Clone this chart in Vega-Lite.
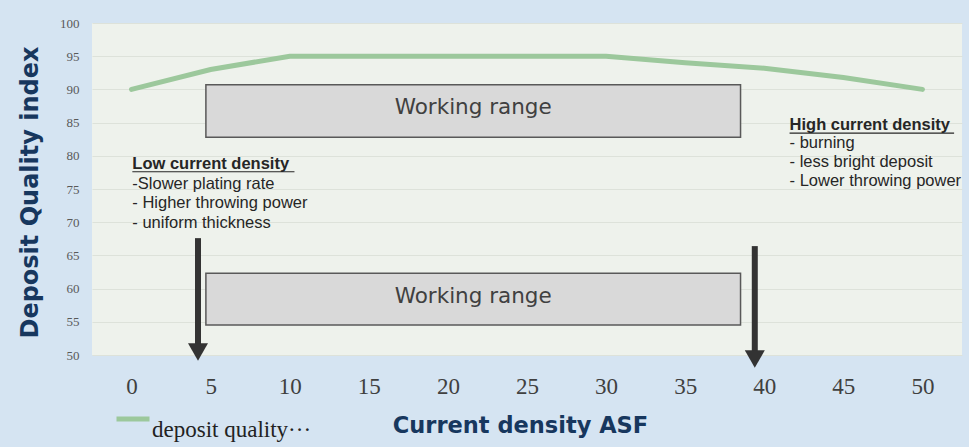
{
  "$schema": "https://vega.github.io/schema/vega-lite/v6.json",
  "width": 870,
  "height": 332,
  "autosize": {"type": "none"},
  "padding": {"left": 92, "top": 23, "right": 7, "bottom": 92},
  "background": "#d5e4f2",
  "config": {
    "view": {"fill": "#eef2ec", "stroke": null}
  },
  "datasets": {
    "quality": [
      {"x": 0, "y": 90, "series": "deposit quality···"},
      {"x": 5, "y": 93, "series": "deposit quality···"},
      {"x": 10, "y": 95, "series": "deposit quality···"},
      {"x": 15, "y": 95, "series": "deposit quality···"},
      {"x": 20, "y": 95, "series": "deposit quality···"},
      {"x": 25, "y": 95, "series": "deposit quality···"},
      {"x": 30, "y": 95, "series": "deposit quality···"},
      {"x": 35, "y": 94, "series": "deposit quality···"},
      {"x": 40, "y": 93.2, "series": "deposit quality···"},
      {"x": 45, "y": 91.8, "series": "deposit quality···"},
      {"x": 50, "y": 90, "series": "deposit quality···"}
    ],
    "boxes": [
      {"x": 4.7, "x2": 38.5, "y": 82.8, "y2": 90.7},
      {"x": 4.7, "x2": 38.5, "y": 54.5, "y2": 62.3}
    ],
    "boxlabels": [
      {"x": 21.6, "y": 87.2, "text": "Working range"},
      {"x": 21.6, "y": 58.7, "text": "Working range"}
    ],
    "shafts": [
      {"x": 4.2, "y": 67.6, "y2": 51.4},
      {"x": 39.4, "y": 66.4, "y2": 50.3}
    ],
    "tips": [
      {"x": 4.2, "y": 50.45},
      {"x": 39.4, "y": 49.4}
    ],
    "heads": [
      {"x": 0.05, "y": 78.8, "text": "Low current density"},
      {"x": 41.6, "y": 84.6, "text": "High current density"}
    ],
    "underlines": [
      {"x": 0.05, "x2": 10.3, "y": 77.6},
      {"x": 41.6, "x2": 52.0, "y": 83.4}
    ],
    "notes": [
      {"x": 0.05, "y": 75.8, "text": "-Slower plating rate"},
      {"x": 0.05, "y": 72.9, "text": "- Higher throwing power"},
      {"x": 0.05, "y": 69.9, "text": "- uniform thickness"},
      {"x": 41.6, "y": 81.9, "text": "- burning"},
      {"x": 41.6, "y": 79.1, "text": "- less bright deposit"},
      {"x": 41.6, "y": 76.2, "text": "- Lower throwing power"}
    ]
  },
  "encoding": {
    "x": {
      "field": "x", "type": "quantitative",
      "scale": {"domain": [-2.5, 52.5], "nice": false, "zero": false},
      "axis": {
        "values": [0, 5, 10, 15, 20, 25, 30, 35, 40, 45, 50],
        "labelOverlap": false,
        "grid": false, "domain": false, "ticks": false,
        "labelFont": "Liberation Serif", "labelFontSize": 23, "labelColor": "#404040",
        "labelPadding": 20,
        "title": "Current density ASF",
        "titleFont": "DejaVu Sans", "titleFontWeight": "bold", "titleFontSize": 22.5,
        "titleColor": "#17375e",
        "titleX": 428, "titleY": 70, "titleAlign": "center", "titleBaseline": "middle"
      }
    },
    "y": {
      "field": "y", "type": "quantitative",
      "scale": {"domain": [50, 100], "nice": false, "zero": false},
      "axis": {
        "values": [50, 55, 60, 65, 70, 75, 80, 85, 90, 95, 100],
        "labelOverlap": false,
        "grid": true, "gridColor": "#dde2da", "gridWidth": 1,
        "domain": false, "ticks": false,
        "labelFont": "Liberation Serif", "labelFontSize": 13, "labelColor": "#595959",
        "labelPadding": 13,
        "title": "Deposit Quality index",
        "titleFont": "DejaVu Sans", "titleFontWeight": "bold", "titleFontSize": 24,
        "titleColor": "#17375e",
        "titleX": -62, "titleY": 169, "titleAngle": 270, "titleAlign": "center", "titleBaseline": "middle"
      }
    }
  },
  "layer": [
    {
      "data": {"name": "boxes"},
      "mark": {"type": "rect", "fill": "#d9d9d9", "stroke": "#595959", "strokeWidth": 1.5},
      "encoding": {
        "x2": {"field": "x2"},
        "y2": {"field": "y2"}
      }
    },
    {
      "data": {"name": "quality"},
      "mark": {"type": "line", "strokeWidth": 5, "strokeCap": "round"},
      "encoding": {
        "color": {
          "field": "series", "type": "nominal",
          "scale": {"range": ["#9cc89c"]},
          "legend": {
            "title": null, "orient": "none", "legendX": 22, "legendY": 377,
            "padding": 0,
            "symbolType": "stroke", "symbolSize": 1089, "symbolStrokeWidth": 5,
            "labelFont": "Liberation Serif", "labelFontSize": 23, "labelColor": "#222222",
            "labelBaseline": "top", "labelOffset": 0, "labelLimit": 300
          }
        }
      }
    },
    {
      "data": {"name": "boxlabels"},
      "mark": {"type": "text", "font": "DejaVu Sans", "fontSize": 21.5, "color": "#404040", "align": "center", "baseline": "middle"},
      "encoding": {
        "text": {"field": "text"}
      }
    },
    {
      "data": {"name": "shafts"},
      "mark": {"type": "rule", "color": "#333333", "strokeWidth": 6},
      "encoding": {
        "y2": {"field": "y2"}
      }
    },
    {
      "data": {"name": "tips"},
      "mark": {"type": "point", "shape": "triangle-down", "filled": true, "color": "#333333", "size": 400, "opacity": 1},
      "encoding": {}
    },
    {
      "data": {"name": "heads"},
      "mark": {"type": "text", "font": "Liberation Sans", "fontSize": 16.5, "fontWeight": "bold", "color": "#262626", "align": "left", "baseline": "middle"},
      "encoding": {
        "text": {"field": "text"}
      }
    },
    {
      "data": {"name": "underlines"},
      "mark": {"type": "rule", "color": "#262626", "strokeWidth": 1.2},
      "encoding": {
        "x2": {"field": "x2"}
      }
    },
    {
      "data": {"name": "notes"},
      "mark": {"type": "text", "font": "Liberation Sans", "fontSize": 16.5, "color": "#262626", "align": "left", "baseline": "middle"},
      "encoding": {
        "text": {"field": "text"}
      }
    }
  ]
}
